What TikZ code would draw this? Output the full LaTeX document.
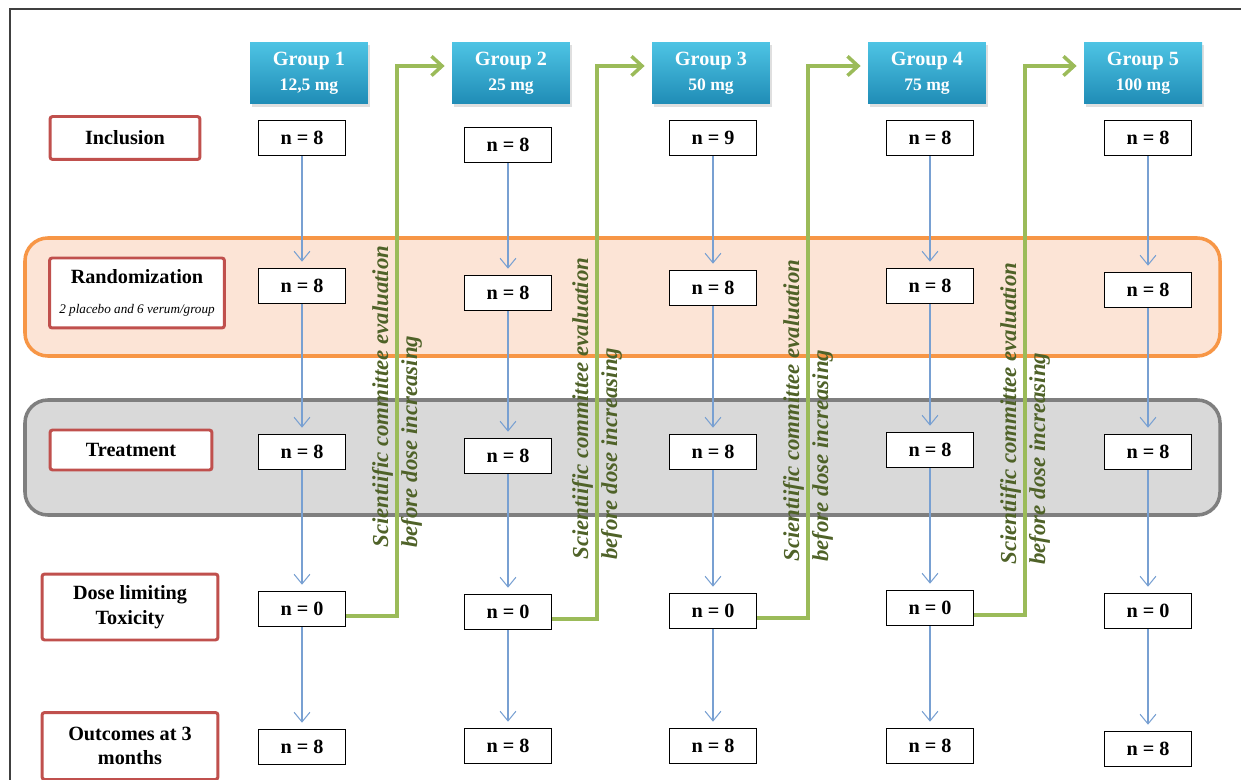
\documentclass[tikz,border=0pt]{standalone}
\usepackage{fontspec}
\setmainfont{Liberation Serif}
\usetikzlibrary{positioning,arrows.meta,shadows}

\definecolor{grptop}{RGB}{78,196,228}
\definecolor{grpbot}{RGB}{31,140,182}
\definecolor{stagered}{RGB}{192,80,77}
\definecolor{flowblue}{RGB}{120,160,210}
\definecolor{escgreen}{RGB}{155,187,89}
\definecolor{esctext}{RGB}{79,98,40}
\definecolor{randfill}{RGB}{252,228,214}
\definecolor{randline}{RGB}{247,150,70}
\definecolor{treatfill}{RGB}{217,217,217}
\definecolor{treatline}{RGB}{127,127,127}

\tikzset{
  x=0.02cm, y=-0.02cm,
  group/.style={shade, top color=grptop, bottom color=grpbot, text=white,
    minimum width=2.36cm, minimum height=1.24cm, inner sep=0pt, align=center,
    font=\fontsize{11.5}{14}\selectfont\bfseries,
    drop shadow={opacity=0.25, shadow xshift=1pt, shadow yshift=-1.5pt}},
  count/.style={draw, fill=white, line width=0.7pt, minimum width=1.74cm,
    minimum height=0.7cm, inner sep=0pt, font=\fontsize{11.5}{14}\selectfont\bfseries},
  stage/.style={draw=stagered, fill=white, line width=1.7pt, rounded corners=1.5pt,
    inner sep=0pt, align=center, font=\fontsize{11.5}{14}\selectfont\bfseries},
  band/.style={rounded corners=13pt, line width=2pt},
  flow/.style={draw=flowblue, line width=0.6pt, shorten >=3.5pt,
    -{Straight Barb[length=5.5pt, width=9pt, line width=0.6pt]}},
  escalate/.style={draw=escgreen, line width=2.3pt,
    -{Straight Barb[length=6pt, width=11pt, line width=2pt]}},
  esc/.style={rotate=90, anchor=west, align=left, text=esctext, inner sep=0pt,
    font=\fontsize{13}{16.5}\selectfont\bfseries\itshape}
}

\begin{document}
\begin{tikzpicture}
  \useasboundingbox (0,0) rectangle (1241,780);
  \draw[black!75, line width=0.6pt] (10,780) -- (10,9) -- (1241,9);

  \draw[band, draw=randline, fill=randfill] (25,238) rectangle (1220,356);
  \draw[band, draw=treatline, fill=treatfill] (25,400) rectangle (1220,515);

  \node[stage, minimum width=3cm, minimum height=0.86cm] (Linc) at (125,138) {Inclusion};
  \node[stage, minimum width=3.5cm, minimum height=1.4cm] (Lrand) at (137,293)
    {Randomization\\[3pt]{\fontsize{7.5}{9}\selectfont\mdseries\itshape 2 placebo and 6 verum/group}};
  \node[stage, minimum width=3.24cm, minimum height=0.8cm] (Ltreat) at (131,450) {Treatment};
  \node[stage, minimum width=3.52cm, minimum height=1.32cm] (Ldlt) at (130,607) {Dose limiting\\Toxicity};
  \node[stage, minimum width=3.52cm, minimum height=1.34cm] (Lout) at (130,746) {Outcomes at 3\\months};

  \node[group] (G1) at (309,73) {Group 1\\{\fontsize{10}{12}\selectfont 12,5 mg}};
  \node[group] (G2) at (511,73) {Group 2\\{\fontsize{10}{12}\selectfont 25 mg}};
  \node[group] (G3) at (711,73) {Group 3\\{\fontsize{10}{12}\selectfont 50 mg}};
  \node[group] (G4) at (927,73) {Group 4\\{\fontsize{10}{12}\selectfont 75 mg}};
  \node[group] (G5) at (1143,73) {Group 5\\{\fontsize{10}{12}\selectfont 100 mg}};

  \node[count] (inc1) at (302,138) {n = 8};
  \node[count] (rand1) at (302,286) {n = 8};
  \node[count] (treat1) at (302,452) {n = 8};
  \node[count] (dlt1) at (302,609) {n = 0};
  \node[count] (out1) at (302,747) {n = 8};

  \node[count] (inc2) at (508,145) {n = 8};
  \node[count] (rand2) at (508,293) {n = 8};
  \node[count] (treat2) at (508,456) {n = 8};
  \node[count] (dlt2) at (508,612) {n = 0};
  \node[count] (out2) at (508,746) {n = 8};

  \node[count] (inc3) at (713,138) {n = 9};
  \node[count] (rand3) at (713,288) {n = 8};
  \node[count] (treat3) at (713,452) {n = 8};
  \node[count] (dlt3) at (713,611) {n = 0};
  \node[count] (out3) at (713,746) {n = 8};

  \node[count] (inc4) at (930,138) {n = 8};
  \node[count] (rand4) at (930,286) {n = 8};
  \node[count] (treat4) at (930,450) {n = 8};
  \node[count] (dlt4) at (930,608) {n = 0};
  \node[count] (out4) at (930,746) {n = 8};

  \node[count] (inc5) at (1148,138) {n = 8};
  \node[count] (rand5) at (1148,290) {n = 8};
  \node[count] (treat5) at (1148,452) {n = 8};
  \node[count] (dlt5) at (1148,611) {n = 0};
  \node[count] (out5) at (1148,749) {n = 8};

  \foreach \c in {1,...,5} {
    \draw[flow] (inc\c) -- (rand\c);
    \draw[flow] (rand\c) -- (treat\c);
    \draw[flow] (treat\c) -- (dlt\c);
    \draw[flow] (dlt\c) -- (out\c);
  }

  \node[esc] (note1) at (397,548) {Scientiific committee evaluation\\before dose increasing};
  \node[esc] (note2) at (597,560) {Scientiific committee evaluation\\before dose increasing};
  \node[esc] (note3) at (808,562) {Scientiific committee evaluation\\before dose increasing};
  \node[esc] (note4) at (1025,565) {Scientiific committee evaluation\\before dose increasing};

  \draw[escalate] ([yshift=-4pt]dlt1.east) -- ++(51,0) |- ([xshift=-4pt,yshift=4pt]G2.west);
  \draw[escalate] ([yshift=-4pt]dlt2.east) -- ++(45,0) |- ([xshift=-4pt,yshift=4pt]G3.west);
  \draw[escalate] ([yshift=-4pt]dlt3.east) -- ++(51,0) |- ([xshift=-4pt,yshift=4pt]G4.west);
  \draw[escalate] ([yshift=-4pt]dlt4.east) -- ++(51,0) |- ([xshift=-4pt,yshift=4pt]G5.west);
\end{tikzpicture}
\end{document}
